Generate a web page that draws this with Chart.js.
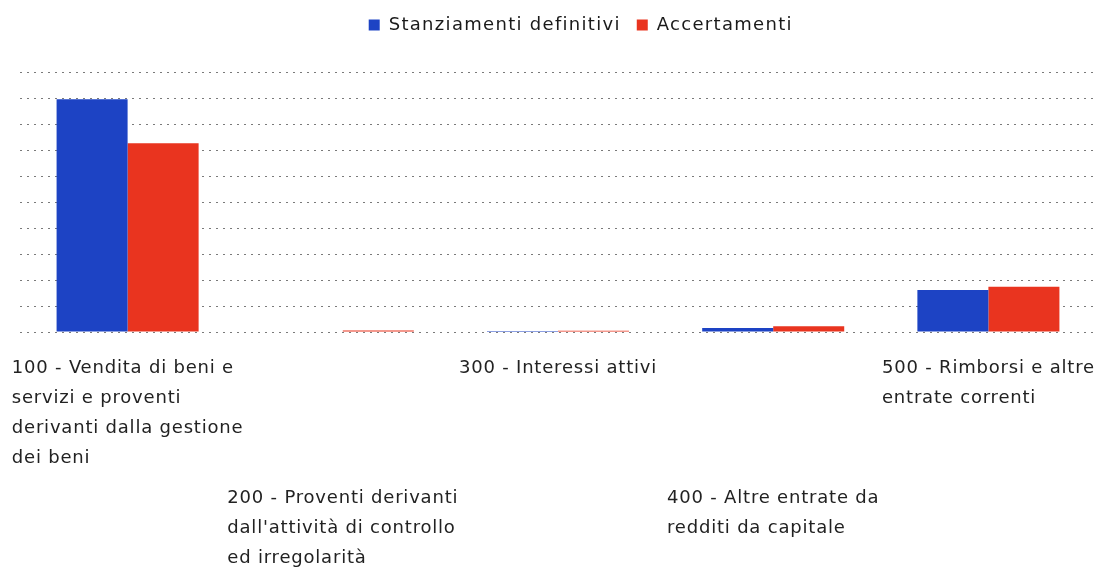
<!DOCTYPE html>
<html lang="it">
<head>
<meta charset="utf-8">
<script src="https://cdn.jsdelivr.net/npm/chart.js@4/dist/chart.umd.min.js"></script>
<style>
    html, body { margin: 0; padding: 0; background: #ffffff; }
    #wrap { width: 1096px; height: 571px; position: relative; }
</style>
</head>
<body>
<div id="wrap"><canvas id="entrateChart"></canvas></div>
<script>
// Dati
const categorie = [
    ['100 - Vendita di beni e', 'servizi e proventi', 'derivanti dalla gestione', 'dei beni'],
    ['200 - Proventi derivanti', "dall'attività di controllo", 'ed irregolarità'],
    ['300 - Interessi attivi'],
    ['400 - Altre entrate da', 'redditi da capitale'],
    ['500 - Rimborsi e altre', 'entrate correnti']
];
const stanziamenti = [8.96, 0.02, 0.04, 0.15, 1.62];
const accertamenti = [7.27, 0.06, 0.05, 0.22, 1.74];
const yTicks = [0, 1, 2, 3, 4, 5, 6, 7, 8, 9, 10];

const FONT = '"DejaVu Sans", sans-serif';

// spaziatura lettere come nella scansione (legenda)
const spaziatura = {
    id: 'spaziatura',
    beforeDraw(chart) {
        chart.ctx.letterSpacing = '1.3px';
    }
};

// Etichette categorie su due righe sfalsate, testo allineato a sinistra
const sfalsaEtichette = {
    id: 'sfalsaEtichette',
    afterDraw(chart) {
        const ctx = chart.ctx;
        const xs = chart.scales.x;
        const base = chart.scales.y.getPixelForValue(0);
        ctx.save();
        ctx.letterSpacing = '0.8px';
        ctx.font = '18px ' + FONT;
        ctx.fillStyle = '#222222';
        ctx.textAlign = 'left';
        ctx.textBaseline = 'middle';
        categorie.forEach((righe, i) => {
            const cx = xs.getPixelForValue(i);
            const maxW = Math.max(...righe.map(r => ctx.measureText(r).width));
            const x0 = cx - maxW / 2;
            const y0 = base + 36 + (i % 2 === 1 ? 130 : 0);
            righe.forEach((r, k) => ctx.fillText(r, x0, y0 + k * 30));
        });
        ctx.restore();
    }
};

new Chart(document.getElementById('entrateChart'), {
    type: 'bar',
    data: {
        labels: categorie,
        datasets: [
            { label: 'Stanziamenti definitivi', data: stanziamenti, backgroundColor: '#1d43c4' },
            { label: 'Accertamenti', data: accertamenti, backgroundColor: '#e9341f' }
        ]
    },
    options: {
        responsive: true,
        maintainAspectRatio: false,
        animation: false,
        layout: { padding: { left: 20, right: 0, top: 0, bottom: 231 } },
        datasets: { bar: { categoryPercentage: 0.66, barPercentage: 1.0 } },
        scales: {
            x: {
                grid: { display: false },
                border: { display: false },
                ticks: { display: false }
            },
            y: {
                min: yTicks[0],
                max: yTicks[yTicks.length - 1],
                afterBuildTicks: (axis) => { axis.ticks = yTicks.map(v => ({ value: v })); },
                ticks: { display: false },
                border: { display: false, dash: [2, 5] },
                grid: {
                    color: '#7a7a7a',
                    lineWidth: 1,
                    tickLength: 0,
                    drawTicks: false
                }
            }
        },
        plugins: {
            legend: {
                position: 'top',
                labels: {
                    boxWidth: 11,
                    boxHeight: 11,
                    padding: 16,
                    color: '#1a1a1a',
                    font: { family: FONT, size: 18 }
                }
            },
            // spazio vuoto tra legenda e area del grafico
            subtitle: {
                display: true,
                text: '',
                weight: 500,
                font: { size: 1 },
                padding: { top: 0, bottom: 27 }
            },
            tooltip: { enabled: false }
        }
    },
    plugins: [spaziatura, sfalsaEtichette]
});
</script>
</body>
</html>
